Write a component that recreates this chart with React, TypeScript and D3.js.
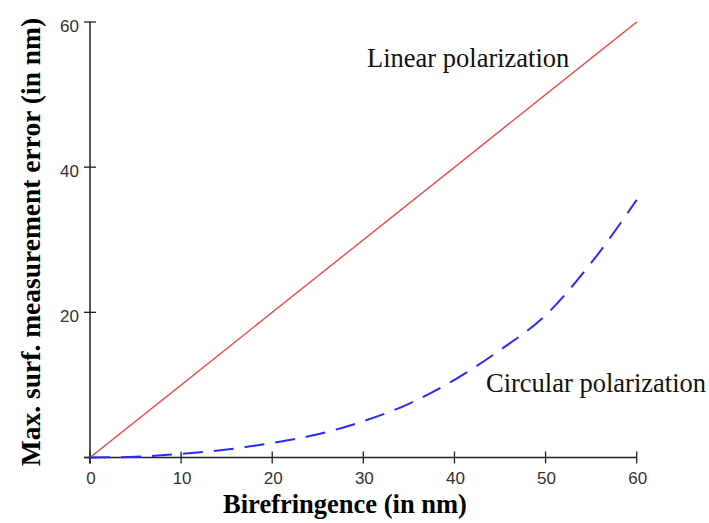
import React from 'react';
import * as d3 from 'd3';

// birefringence values (nm)
const linearX = [0, 10, 20, 30, 40, 50, 60];
const linearY = [0, 10, 20, 30, 40, 50, 60];

const circularX = [0, 5, 10, 15, 20, 25, 30, 35, 40, 45, 50, 55, 60];
const circularY = [0, 0.1, 0.5, 1.1, 2.0, 3.2, 5.0, 7.4, 10.7, 14.8, 19.6, 26.8, 35.5];

const xTicks = [0, 10, 20, 30, 40, 50, 60];
const yTicks = [0, 20, 40, 60];

const W = 709;
const H = 523;

const App = () => {
    const x = d3.scaleLinear().domain([0, 60]).range([90, 636.7]);
    const y = d3.scaleLinear().domain([0, 60]).range([457.5, 22]);

    const line = d3.line<[number, number]>()
        .x(d => x(d[0]))
        .y(d => y(d[1]));

    const linearPath = line(linearX.map((v, i) => [v, linearY[i]]));
    const circularPath = line.curve(d3.curveMonotoneX)(circularX.map((v, i) => [v, circularY[i]]));

    const axisColor = '#222';
    const tickFont = 'Liberation Sans, Arial, sans-serif';
    const serif = 'Liberation Serif, Times New Roman, serif';

    return (
        <svg width={W} height={H} style={{ position: 'absolute', left: 0, top: 0, background: '#fff' }}>
            {/* axes */}
            <line x1={x(0) - 6} x2={x(60)} y1={y(0)} y2={y(0)} stroke={axisColor} strokeWidth={1.5} />
            <line x1={x(0)} x2={x(0)} y1={y(60)} y2={y(0) + 6} stroke={axisColor} strokeWidth={1.5} />

            {xTicks.map(t => (
                <g key={'x' + t}>
                    <line x1={x(t)} x2={x(t)} y1={y(0) - 6} y2={y(0) + 6} stroke={axisColor} strokeWidth={1.3} />
                    <text x={x(t) + 1} y={y(0) + 26} textAnchor="middle" fontFamily={tickFont}
                        fontSize={17} fill="#333">{t}</text>
                </g>
            ))}
            {yTicks.map(t => (
                <g key={'y' + t}>
                    <line x1={x(0) - 6} x2={x(0) + 6} y1={y(t)} y2={y(t)} stroke={axisColor} strokeWidth={1.3} />
                    {t !== 0 && (
                        <text x={79} y={y(t) + 10} textAnchor="end" fontFamily={tickFont}
                            fontSize={17} fill="#333">{t}</text>
                    )}
                </g>
            ))}

            {/* curves */}
            <path d={linearPath || ''} fill="none" stroke="#ff3a3a" strokeWidth={1.3} />
            <path d={circularPath || ''} fill="none" stroke="#2a2aff" strokeWidth={2} strokeDasharray="20,11" />

            {/* annotations */}
            <text x={367} y={67} fontFamily={serif} fontSize={26.5} fill="#111">
                Linear polarization
            </text>
            <text x={486} y={392} fontFamily={serif} fontSize={26.5} fill="#111">
                Circular polarization
            </text>

            {/* axis titles */}
            <text x={345} y={513} textAnchor="middle" fontFamily={serif}
                fontSize={26.5} fontWeight="bold" fill="#000">Birefringence (in nm)</text>
            <text transform={`translate(40,${242}) rotate(-90)`} textAnchor="middle"
                fontFamily={serif} fontSize={27.5} fontWeight="bold" fill="#000">
                Max. surf. measurement error (in nm)
            </text>
        </svg>
    );
};

export default App;
